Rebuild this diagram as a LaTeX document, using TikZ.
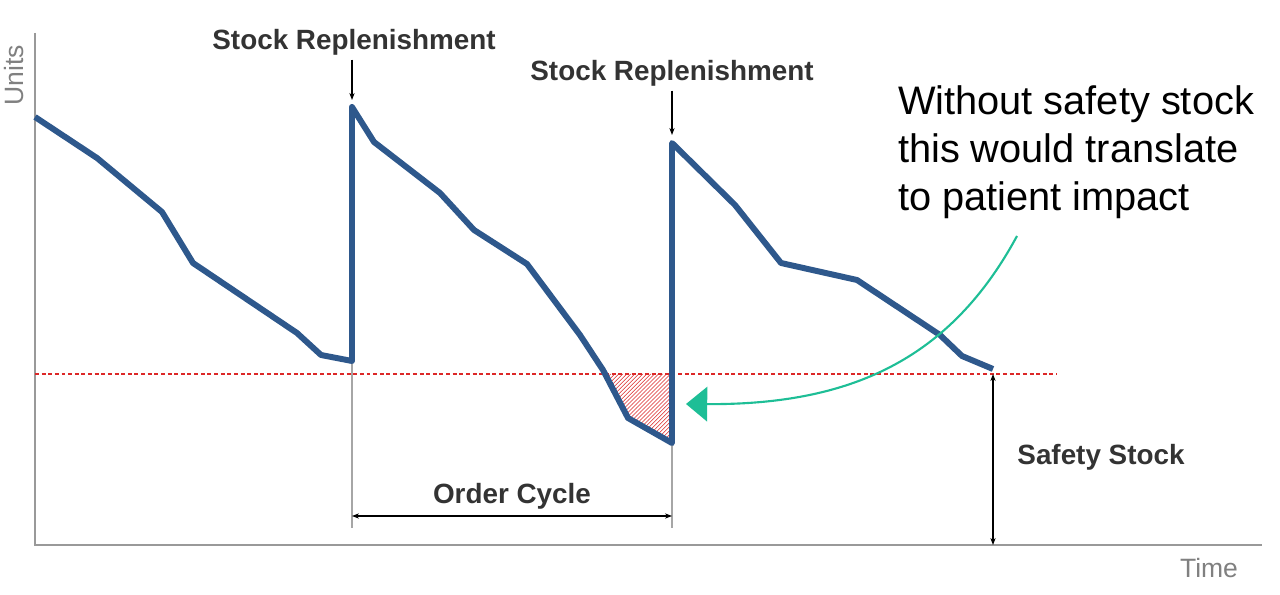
\documentclass[tikz,border=0pt]{standalone}
\usepackage{fontspec}
\setmainfont{Liberation Sans}
\usetikzlibrary{arrows.meta, patterns}
\definecolor{stockblue}{RGB}{46,88,140}
\definecolor{safered}{RGB}{220,40,40}
\definecolor{noteteal}{RGB}{30,190,150}
\tikzstyle{axis} = [draw=gray!80, line width=1.3pt]
\tikzstyle{guide} = [draw=gray!70, line width=0.8pt]
\tikzstyle{dim} = [black, line width=0.8pt, {Stealth[scale=0.8]}-{Stealth[scale=0.8]}]
\tikzstyle{tag} = [font=\fontsize{21}{24}\selectfont\bfseries, text=black!80]
\tikzstyle{axistag} = [font=\fontsize{20}{24}\selectfont, text=gray]

\begin{document}
\begin{tikzpicture}[x=0.0265cm, y=-0.0265cm]
    \useasboundingbox (0,0) rectangle (1280,595);
    % axes
    \coordinate (origin) at (35,545);
    \draw [axis] (35,33) -- (origin) -- (1262,545);
    \node (units) [axistag, rotate=90] at (14,75) {Units};
    \node (time) [axistag] at (1209,568) {Time};
    % safety stock level
    \coordinate (ssleft) at (35,374);
    \coordinate (ssright) at (1057,374);
    \fill [pattern=north east lines, pattern color=safered]
        (605,374) -- (628,418) -- (672,443) -- (672,374) -- cycle;
    \draw [safered, densely dashed, line width=0.9pt] (ssleft) -- (ssright);
    % guides
    \draw [guide] (352,361) -- (352,528);
    \draw [guide] (672,443) -- (672,528);
    % stock curve
    \draw [stockblue, line width=4.5pt, line join=round]
        (35,117) -- (97,158) -- (162,212) -- (193,263) -- (297,333)
        -- (321,355) -- (352,361) -- (352,107) -- (374,142) -- (440,193)
        -- (474,230) -- (527,264) -- (580,335) -- (603,370) -- (628,418)
        -- (672,443) -- (672,143) -- (735,205) -- (781,263) -- (857,280)
        -- (940,335) -- (962,356) -- (993,369);
    % replenishments
    \node (rep1) [tag] at (354,42) {Stock Replenishment};
    \node (rep2) [tag] at (672,73) {Stock Replenishment};
    \draw [-{Stealth[scale=0.8]}, line width=0.8pt] (rep1.south -| 352,60) -- (352,100);
    \draw [-{Stealth[scale=0.8]}, line width=0.8pt] (rep2.south) -- (672,135);
    % order cycle
    \draw [dim] (352,516) -- node (cycle) [tag, above=1pt] {Order Cycle} (672,516);
    % safety stock
    \draw [dim] (993,374) -- (993,545);
    \node (safety) [tag] at (1101,457) {Safety Stock};
    % note
    \node (note) [font=\fontsize{30}{36}\selectfont, align=left, text=black]
        at (1076,152) {Without safety stock\\this would translate\\to patient impact};
    \coordinate (impact) at (686,404);
    \draw [noteteal, line width=1.6pt, -{Triangle[length=16pt, width=26pt]}]
        (1017,236) .. controls (950,360) and (850,405) .. (impact);
\end{tikzpicture}
\end{document}
